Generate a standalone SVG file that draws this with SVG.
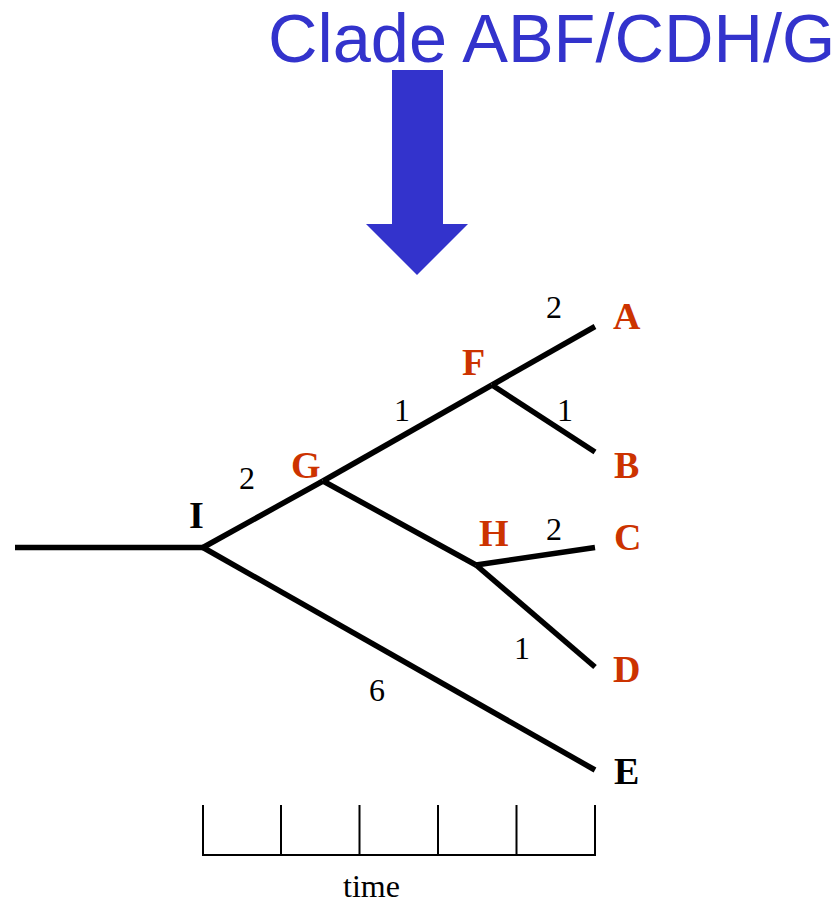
<svg xmlns="http://www.w3.org/2000/svg" width="838" height="904" viewBox="0 0 838 904">
<style>
.title{font-family:"Liberation Sans",Arial,sans-serif;font-size:68.5px;fill:#3333CC}
.node{font-family:"Liberation Serif","Times New Roman",serif;font-weight:bold;font-size:38px}
.red{fill:#CC3300}
.blk{fill:#000}
.num{font-family:"Liberation Serif","Times New Roman",serif;font-size:32px;fill:#000}
.br{stroke:#000;stroke-width:5.5;fill:none;stroke-linecap:butt}
.ax{stroke:#000;stroke-width:2;fill:none}
</style>
<rect width="838" height="904" fill="#fff"/>
<text class="title" x="268" y="62">Clade ABF/CDH/G</text>
<polygon points="392,70 443,70 443,224 468,224 417,275 366,224 392,224" fill="#3333CC"/>
<g id="connectors">
<line class="br" x1="15" y1="547.5" x2="203" y2="547.5"/>
<line class="br" x1="203" y1="547.5" x2="323" y2="481"/>
<line class="br" x1="323" y1="481" x2="492" y2="385"/>
<line class="br" x1="492" y1="385" x2="595" y2="326.5"/>
<line class="br" x1="492" y1="385" x2="595" y2="452"/>
<line class="br" x1="323" y1="481" x2="476" y2="565"/>
<line class="br" x1="476" y1="565" x2="595" y2="547.5"/>
<line class="br" x1="476" y1="565" x2="595" y2="667"/>
<line class="br" x1="203" y1="547.5" x2="595" y2="770"/>
</g>
<g id="axis">
<polyline class="ax" points="203,805 203,855 595,855 595,805"/>
<line class="ax" x1="281" y1="805" x2="281" y2="855"/>
<line class="ax" x1="359.5" y1="805" x2="359.5" y2="855"/>
<line class="ax" x1="438" y1="805" x2="438" y2="855"/>
<line class="ax" x1="516.5" y1="805" x2="516.5" y2="855"/>
<text class="num" x="343" y="897">time</text>
</g>
<g id="node-A"><text class="node red" x="613" y="329">A</text></g>
<g id="node-B"><text class="node red" x="614" y="478">B</text></g>
<g id="node-C"><text class="node red" x="614" y="550">C</text></g>
<g id="node-D"><text class="node red" x="613" y="682">D</text></g>
<g id="node-E"><text class="node blk" x="614" y="784">E</text></g>
<g id="node-F"><text class="node red" x="462" y="375">F</text></g>
<g id="node-G"><text class="node red" x="291" y="478">G</text></g>
<g id="node-H"><text class="node red" x="479" y="546">H</text></g>
<g id="node-I"><text class="node blk" x="189" y="528">I</text></g>
<g id="labels">
<text class="num" x="546" y="318">2</text>
<text class="num" x="394" y="421">1</text>
<text class="num" x="557" y="421">1</text>
<text class="num" x="239" y="489">2</text>
<text class="num" x="546" y="540">2</text>
<text class="num" x="514" y="659">1</text>
<text class="num" x="369" y="701">6</text>
</g>
</svg>
